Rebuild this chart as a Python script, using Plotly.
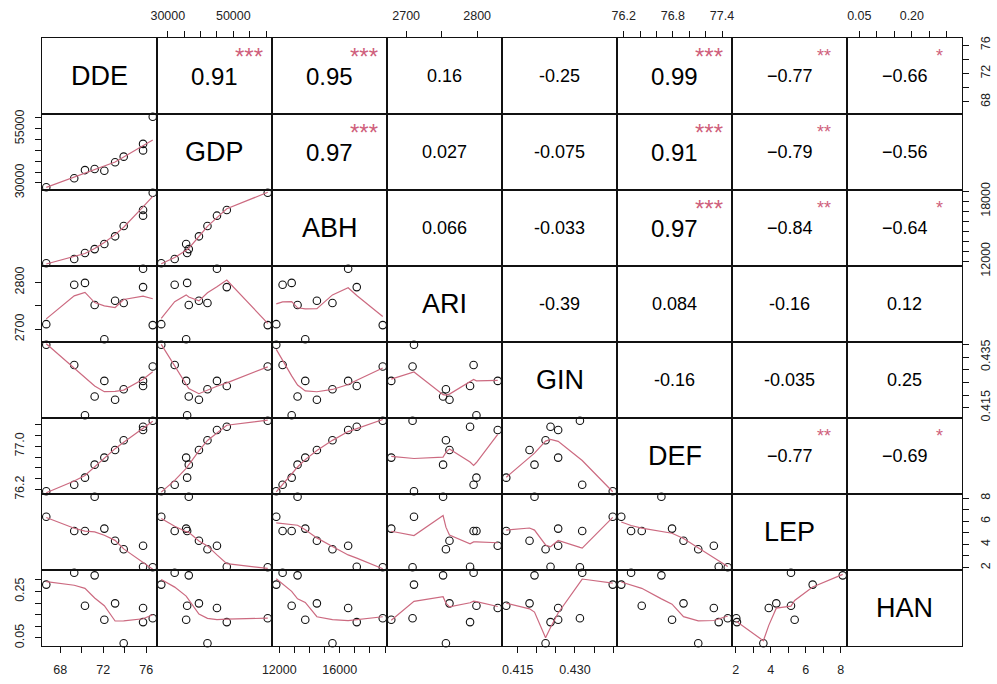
import numpy as np
import plotly.graph_objects as go
from plotly.subplots import make_subplots

# ---- variables (one value per observation) ----
VARS = ["DDE", "GDP", "ABH", "ARI", "GIN", "DEF", "LEP", "HAN"]

DDE = [66.7, 69.3, 70.3, 71.2, 72.1, 73.1, 73.9, 75.7, 75.7, 76.6]
GDP = [28000, 32100, 35900, 36400, 35600, 39500, 42100, 48000, 45000, 60500]
ABH = [11800, 12220, 12820, 13210, 13720, 14490, 15520, 17130, 16560, 18850]
ARI = [2711, 2795, 2799, 2752, 2679, 2761, 2756, 2790, 2829, 2709]
GIN = [0.4399, 0.4319, 0.4120, 0.4194, 0.4256, 0.4181, 0.4223, 0.4236, 0.4256, 0.4313]
DEF = [76.17, 76.29, 76.42, 76.66, 76.79, 76.93, 77.11, 77.36, 77.30, 77.47]
LEP = [6.40, 5.16, 5.16, 8.12, 5.37, 4.32, 3.58, 2.07, 3.89, 2.03]
HAN = [0.280, 0.331, 0.189, 0.320, 0.128, 0.199, 0.027, 0.118, 0.179, 0.135]

# ---- axis ticks and their labels (blank = unlabeled tick) ----
DDE_TICKS = [68, 70, 72, 74, 76]
DDE_XTEXT = ["68", "", "72", "", "76"]
DDE_YTEXT = ["68", "", "72", "", "76"]

GDP_TICKS = [30000, 35000, 40000, 45000, 50000, 55000, 60000]
GDP_XTEXT = ["30000", "", "", "", "50000", "", ""]
GDP_YTEXT = ["30000", "", "", "", "", "55000", ""]

ABH_TICKS = [12000, 13000, 14000, 15000, 16000, 17000, 18000, 19000]
ABH_XTEXT = ["12000", "", "", "", "16000", "", "", ""]
ABH_YTEXT = ["12000", "", "", "", "", "", "18000", ""]

ARI_TICKS = [2700, 2750, 2800]
ARI_XTEXT = ["2700", "", "2800"]
ARI_YTEXT = ["2700", "", "2800"]

GIN_TICKS = [0.415, 0.420, 0.425, 0.430, 0.435, 0.440]
GIN_XTEXT = ["0.415", "", "", "0.430", "", ""]
GIN_YTEXT = ["0.415", "", "", "", "0.435", ""]

DEF_TICKS = [76.2, 76.4, 76.6, 76.8, 77.0, 77.2, 77.4]
DEF_XTEXT = ["76.2", "", "", "76.8", "", "", "77.4"]
DEF_YTEXT = ["76.2", "", "", "", "77.0", "", ""]

LEP_TICKS = [2, 3, 4, 5, 6, 7, 8]
LEP_XTEXT = ["2", "", "4", "", "6", "", "8"]
LEP_YTEXT = ["2", "", "4", "", "6", "", "8"]

HAN_TICKS = [0.05, 0.10, 0.15, 0.20, 0.25, 0.30]
HAN_XTEXT = ["0.05", "", "", "0.20", "", ""]
HAN_YTEXT = ["0.05", "", "", "", "0.25", ""]

# ---- upper-triangle correlation labels, row by row ----
CORR_TEXT = [
    "0.91", "0.95", "0.16", "-0.25", "0.99", "\u22120.77", "\u22120.66",
    "0.97", "0.027", "-0.075", "0.91", "\u22120.79", "\u22120.56",
    "0.066", "-0.033", "0.97", "\u22120.84", "\u22120.64",
    "-0.39", "0.084", "-0.16", "0.12",
    "-0.16", "-0.035", "0.25",
    "\u22120.77", "\u22120.69",
    "",
]
CORR_STARS = [
    "***", "***", "", "", "***", "**", "*",
    "***", "", "", "***", "**", "",
    "", "", "***", "**", "*",
    "", "", "", "",
    "", "", "",
    "**", "*",
    "",
]

series = {"DDE": DDE, "GDP": GDP, "ABH": ABH, "ARI": ARI,
          "GIN": GIN, "DEF": DEF, "LEP": LEP, "HAN": HAN}
ticks = {"DDE": (DDE_TICKS, DDE_XTEXT, DDE_YTEXT),
         "GDP": (GDP_TICKS, GDP_XTEXT, GDP_YTEXT),
         "ABH": (ABH_TICKS, ABH_XTEXT, ABH_YTEXT),
         "ARI": (ARI_TICKS, ARI_XTEXT, ARI_YTEXT),
         "GIN": (GIN_TICKS, GIN_XTEXT, GIN_YTEXT),
         "DEF": (DEF_TICKS, DEF_XTEXT, DEF_YTEXT),
         "LEP": (LEP_TICKS, LEP_XTEXT, LEP_YTEXT),
         "HAN": (HAN_TICKS, HAN_XTEXT, HAN_YTEXT)}

INK = "#111111"
SMOOTH = "#CC6A80"
STAR = "#CF5F7C"
FONT = "Liberation Sans, Arial, sans-serif"
TICKFONT = dict(family=FONT, size=12.5, color="#222222")


def lowess(x, y, f=2 / 3, iters=3):
    """Cleveland's robust locally weighted regression (as in R's lowess)."""
    x = np.asarray(x, float)
    y = np.asarray(y, float)
    o = np.argsort(x, kind="stable")
    x, y = x[o], y[o]
    n = len(x)
    delta = 0.01 * (x[-1] - x[0])
    ns = max(2, min(n, int(f * n + 1e-7)))
    ys = np.zeros(n)
    rw = np.ones(n)
    w = np.zeros(n)
    xrange_ = x[-1] - x[0]

    def lowest(xs, nleft, nright, userw):
        h = max(xs - x[nleft], x[nright] - xs)
        h9, h1 = 0.999 * h, 0.001 * h
        a = 0.0
        j = nleft
        while j < n:
            w[j] = 0.0
            r = abs(x[j] - xs)
            if r <= h9:
                w[j] = 1.0 if r <= h1 else (1 - (r / h) ** 3) ** 3
                if userw:
                    w[j] *= rw[j]
                a += w[j]
            elif x[j] > xs:
                break
            j += 1
        nrt = j - 1
        if a <= 0:
            return None
        sl = slice(nleft, nrt + 1)
        w[sl] /= a
        if h > 0:
            a = np.sum(w[sl] * x[sl])
            b = xs - a
            c = np.sum(w[sl] * (x[sl] - a) ** 2)
            if np.sqrt(c) > 0.001 * xrange_:
                b /= c
                w[sl] *= b * (x[sl] - a) + 1.0
        return float(np.sum(w[sl] * y[sl]))

    it = 1
    while it <= iters + 1:
        nleft, nright, last, i = 0, ns - 1, -1, 0
        while True:
            if nright < n - 1:
                d1 = x[i] - x[nleft]
                d2 = x[nright + 1] - x[i]
                if d1 > d2:
                    nleft += 1
                    nright += 1
                    continue
            v = lowest(x[i], nleft, nright, it > 1)
            ys[i] = y[i] if v is None else v
            if last < i - 1:
                denom = x[i] - x[last]
                for j in range(last + 1, i):
                    alpha = (x[j] - x[last]) / denom
                    ys[j] = alpha * ys[i] + (1 - alpha) * ys[last]
            last = i
            cut = x[last] + delta
            i = last + 1
            while i < n:
                if x[i] > cut:
                    break
                if x[i] == x[last]:
                    ys[i] = ys[last]
                    last = i
                i += 1
            i = max(last + 1, i - 1)
            if last >= n - 1:
                break
        res = y - ys
        sc = np.mean(np.abs(res))
        if it > iters:
            break
        ar = np.sort(np.abs(res))
        m1 = n // 2
        if n % 2 == 0:
            cmad = 3 * (ar[m1] + ar[n - m1 - 1])
        else:
            cmad = 6 * ar[m1]
        if cmad < 1e-7 * sc:
            break
        r = np.abs(res)
        rw = np.where(r <= 0.001 * cmad, 1.0,
                      np.where(r <= 0.999 * cmad, (1 - (r / cmad) ** 2) ** 2, 0.0))
        it += 1
    return x, ys


def pad_range(v):
    lo, hi = float(min(v)), float(max(v))
    d = 0.04 * (hi - lo)
    return [lo - d, hi + d]


def domain_refs(r, c):
    idx = r * 8 + c + 1
    s = "" if idx == 1 else str(idx)
    return f"x{s} domain", f"y{s} domain"


fig = make_subplots(rows=8, cols=8, horizontal_spacing=0, vertical_spacing=0)

annotations = []
k = 0
for r, rv in enumerate(VARS):
    for c, cv in enumerate(VARS):
        row, col = r + 1, c + 1
        xref, yref = domain_refs(r, c)
        if r > c:
            fig.add_trace(go.Scatter(
                x=series[cv], y=series[rv], mode="markers",
                marker=dict(symbol="circle-open", size=7.5, color=INK,
                            line=dict(width=1.1, color=INK)),
                cliponaxis=False, hoverinfo="skip", showlegend=False),
                row=row, col=col)
            sx, sy = lowess(series[cv], series[rv])
            fig.add_trace(go.Scatter(
                x=sx, y=sy, mode="lines",
                line=dict(color=SMOOTH, width=1.2),
                hoverinfo="skip", showlegend=False),
                row=row, col=col)
        else:
            # placeholder so the empty panel (and its frame) is rendered
            fig.add_trace(go.Scatter(
                x=[None], y=[None], mode="markers", hoverinfo="skip",
                showlegend=False), row=row, col=col)
            if r == c:
                annotations.append(dict(
                    xref=xref, yref=yref, x=0.5, y=0.5, text=rv, showarrow=False,
                    xanchor="center", yanchor="middle",
                    font=dict(family=FONT, size=27, color="#000000")))
            else:
                txt = CORR_TEXT[k]
                stars = CORR_STARS[k]
                k += 1
                if txt:
                    val = float(txt.replace("\u2212", "-"))
                    size = 24 if abs(val) >= 0.9 else 18
                    annotations.append(dict(
                        xref=xref, yref=yref, x=0.5, y=0.5, text=txt,
                        showarrow=False, xanchor="center", yanchor="middle",
                        font=dict(family=FONT, size=size, color="#000000")))
                    if stars:
                        annotations.append(dict(
                            xref=xref, yref=yref, x=0.8, y=0.76, text=stars,
                            showarrow=False, xanchor="center", yanchor="middle",
                            font=dict(family=FONT, size=size, color=STAR)))

        tv, xt, yt = ticks[cv]
        xa = dict(range=pad_range(series[cv]), showline=True, mirror=True,
                  linecolor=INK, linewidth=1, showgrid=False, zeroline=False,
                  ticks="", showticklabels=False, fixedrange=True)
        if (r == 7 and c % 2 == 0) or (r == 0 and c % 2 == 1):
            xa.update(side="bottom" if r == 7 else "top", ticks="outside",
                      ticklen=6, tickwidth=1, tickcolor=INK,
                      tickvals=tv, ticktext=xt, showticklabels=True,
                      tickfont=TICKFONT, ticklabelstandoff=6, tickangle=0)
        fig.update_xaxes(xa, row=row, col=col)

        tv, xt, yt = ticks[rv]
        ya = dict(range=pad_range(series[rv]), showline=True, mirror=True,
                  linecolor=INK, linewidth=1, showgrid=False, zeroline=False,
                  ticks="", showticklabels=False, fixedrange=True)
        if (c == 7 and r % 2 == 0) or (c == 0 and r % 2 == 1):
            ya.update(side="right" if c == 7 else "left", ticks="outside",
                      ticklen=6, tickwidth=1, tickcolor=INK,
                      tickvals=tv, ticktext=yt, showticklabels=True,
                      tickfont=TICKFONT, ticklabelstandoff=6, tickangle=-90)
        fig.update_yaxes(ya, row=row, col=col)

fig.update_layout(
    template="none",
    width=997, height=684,
    margin=dict(l=42, r=35, t=38, b=38, pad=0),
    paper_bgcolor="white", plot_bgcolor="white",
    showlegend=False,
    annotations=annotations,
    font=dict(family=FONT, color="#000000"),
)

fig.write_html("out.html")
